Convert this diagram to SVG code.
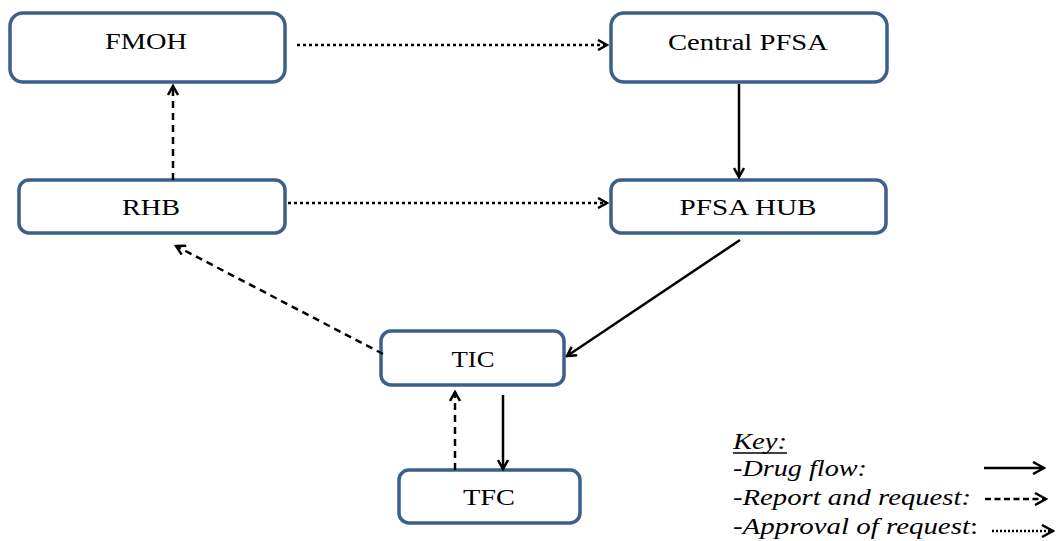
<svg xmlns="http://www.w3.org/2000/svg" width="1058" height="541" viewBox="0 0 1058 541">
<style>
.box{fill:#fff;stroke:#3d5f8c;stroke-width:3.5}
.lbl{font-family:"Liberation Serif",serif;font-size:23px;fill:#000;text-anchor:middle}
.key{font-family:"Liberation Serif",serif;font-size:22.5px;font-style:italic;fill:#000}
.c{fill:none;stroke:#000;stroke-width:2.5}
.dash{stroke-dasharray:7,5}
.dot{stroke-dasharray:3,3}
</style>
<defs>
<marker id="ah" viewBox="0 0 12 12" refX="10" refY="6" markerWidth="12" markerHeight="12" markerUnits="userSpaceOnUse" orient="auto">
<path d="M1,1 L10,6 L1,11" fill="none" stroke="#000" stroke-width="2.5"/>
</marker>
<marker id="ahk" viewBox="0 0 14 14" refX="12" refY="7" markerWidth="14" markerHeight="14" markerUnits="userSpaceOnUse" orient="auto">
<path d="M1,1 L12,7 L1,13" fill="none" stroke="#000" stroke-width="2.5"/>
</marker>
</defs>
<g id="FMOH"><rect class="box" x="10" y="13" width="275" height="69" rx="13"/><text class="lbl" x="146" y="48.5" textLength="82" lengthAdjust="spacingAndGlyphs">FMOH</text></g>
<g id="CentralPFSA"><rect class="box" x="611" y="13" width="276" height="69" rx="13"/><text class="lbl" x="748" y="50" textLength="160" lengthAdjust="spacingAndGlyphs">Central PFSA</text></g>
<g id="RHB"><rect class="box" x="19" y="180" width="266" height="53" rx="10"/><text class="lbl" x="151" y="215" textLength="58" lengthAdjust="spacingAndGlyphs">RHB</text></g>
<g id="PFSAHUB"><rect class="box" x="611" y="180" width="275" height="53" rx="10"/><text class="lbl" x="748" y="215" textLength="137" lengthAdjust="spacingAndGlyphs">PFSA HUB</text></g>
<g id="TIC"><rect class="box" x="381" y="331" width="183" height="54" rx="10"/><text class="lbl" x="473" y="367" textLength="43" lengthAdjust="spacingAndGlyphs">TIC</text></g>
<g id="TFC"><rect class="box" x="399" y="470" width="181" height="53" rx="10"/><text class="lbl" x="489" y="505" textLength="52" lengthAdjust="spacingAndGlyphs">TFC</text></g>
<g id="connectors">
<line class="c dot" x1="297" y1="45" x2="607" y2="45" marker-end="url(#ah)"/>
<line class="c dot" x1="288" y1="203" x2="607" y2="203" marker-end="url(#ah)"/>
<line class="c dash" x1="173" y1="180" x2="173" y2="86" marker-end="url(#ah)"/>
<line class="c" x1="739" y1="84" x2="739" y2="177" marker-end="url(#ah)"/>
<line class="c" x1="740" y1="240" x2="567" y2="356" marker-end="url(#ah)"/>
<line class="c dash" x1="383" y1="354" x2="176" y2="246" marker-end="url(#ah)"/>
<line class="c dash" x1="455" y1="470" x2="455" y2="392" marker-end="url(#ah)"/>
<line class="c" x1="503" y1="395" x2="503" y2="469" marker-end="url(#ah)"/>
</g>
<g id="key">
<text class="key" x="733" y="449" textLength="54" lengthAdjust="spacingAndGlyphs">Key:</text>
<line x1="733" y1="453" x2="787" y2="453" stroke="#000" stroke-width="1.3"/>
<text class="key" x="733" y="476" textLength="134" lengthAdjust="spacingAndGlyphs">-Drug flow:</text>
<text class="key" x="733" y="505" textLength="238" lengthAdjust="spacingAndGlyphs">-Report and request:</text>
<text class="key" x="733" y="534" textLength="245" lengthAdjust="spacingAndGlyphs">-Approval of request<tspan font-style="normal">:</tspan></text>
<line class="c" x1="984" y1="468" x2="1044" y2="468" marker-end="url(#ahk)"/>
<line class="c" x1="985" y1="499" x2="1046" y2="499" stroke-dasharray="6,3.5" marker-end="url(#ahk)"/>
<line class="c" x1="992" y1="531" x2="1053" y2="531" stroke-width="2" stroke-dasharray="2,2" marker-end="url(#ahk)"/>
</g>
</svg>
